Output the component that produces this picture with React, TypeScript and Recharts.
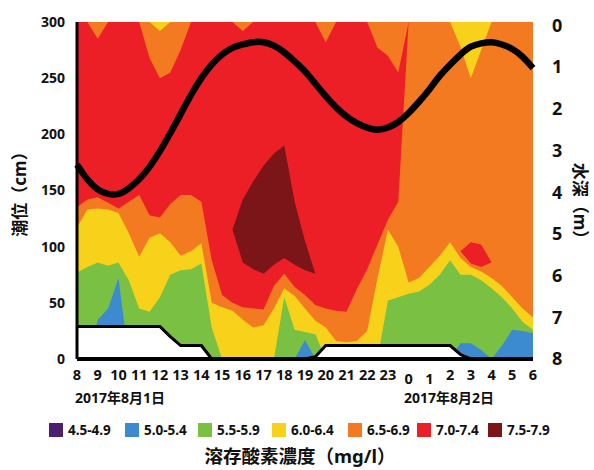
import { ComposedChart, Area, Line, XAxis, YAxis } from 'recharts';

// x axis: one sample every 30 minutes, starting 8:00 on Aug 1 and ending 6:00 on Aug 2
const hourLabels = ['8', '9', '10', '11', '12', '13', '14', '15', '16', '17', '18', '19', '20', '21', '22', '23', '0', '1', '2', '3', '4', '5', '6'];

// tide level (cm)
const tide = [173, 160, 151, 147, 147, 152, 160, 171, 185, 201, 218, 235, 250, 262, 271, 277, 280, 282, 282, 279, 273, 265, 256, 245, 234, 224, 216, 210, 206, 204, 206, 211, 219, 229, 240, 252, 262, 271, 278, 281, 282, 280, 276, 269, 259];

// bottom profile (cm)
const mud = [29, 29, 29, 29, 29, 29, 29, 29, 29, 20, 12, 12, 12, 0, 0, 0, 0, 0, 0, 0, 0, 0, 0, 2, 12, 12, 12, 12, 12, 12, 12, 12, 12, 12, 12, 12, 12, 4, 0, 0, 0, 0, 0, 0, 0];

// upper edge of each DO band, measured from the bottom (cm)
const blueTop = [0, 0, 35, 45, 72, 0, 0, 0, 0, 0, 0, 0, 0, 0, 0, 0, 0, 0, 0, 0, 0, 0, 17, 0, 0, 0, 0, 0, 0, 0, 0, 0, 0, 0, 0, 0, 0, 14, 14, 8, 0, 12, 26, 25, 23];
const greenTop = [77, 82, 86, 83, 86, 70, 45, 42, 55, 75, 79, 80, 85, 28, 0, 0, 0, 0, 0, 0, 55, 26, 24, 22, 0, 0, 0, 0, 0, 0, 52, 55, 58, 60, 66, 75, 88, 75, 75, 70, 63, 55, 45, 33, 26];
const yellowTop = [117, 133, 134, 133, 130, 112, 91, 108, 112, 104, 92, 96, 103, 50, 46, 43, 35, 28, 30, 45, 63, 56, 45, 34, 28, 16, 15, 16, 25, 72, 115, 100, 68, 72, 82, 92, 104, 90, 82, 78, 72, 65, 55, 45, 37];
const orangeTop = [135, 142, 144, 139, 134, 140, 146, 128, 126, 138, 146, 146, 140, 88, 57, 50, 46, 45, 44, 65, 76, 64, 57, 48, 45, 43, 42, 62, 80, 102, 124, 140, 300, 300, 300, 300, 300, 300, 300, 300, 300, 300, 300, 300, 300];

// lower edge of bands hanging from the top of the plot (cm)
const orangeCap = [300, 300, 285, 300, 300, 300, 300, 268, 250, 255, 275, 300, 300, 300, 300, 300, 292, 300, 300, 300, 300, 300, 300, 300, 282, 300, 300, 300, 300, 277, 270, 255, 300, 300, 300, 300, 300, 300, 300, 300, 300, 300, 300, 300, 300];
const yellowCap = [300, 300, 300, 300, 300, 300, 300, 300, 292, 300, 300, 300, 300, 300, 300, 300, 300, 300, 300, 300, 300, 300, 300, 300, 300, 300, 300, 300, 300, 300, 300, 300, 300, 300, 300, 300, 300, 278, 250, 275, 300, 300, 300, 300, 300];

// closed patches (cm)
const darkRedLo = [115, 115, 115, 115, 115, 115, 115, 115, 115, 115, 115, 115, 115, 115, 115, 115, 86, 80, 76, 84, 90, 84, 79, 76, 76, 76, 76, 76, 76, 76, 76, 76, 76, 76, 76, 76, 76, 76, 76, 76, 76, 76, 76, 76, 76];
const darkRedHi = [115, 115, 115, 115, 115, 115, 115, 115, 115, 115, 115, 115, 115, 115, 115, 115, 142, 158, 172, 183, 190, 140, 105, 76, 76, 76, 76, 76, 76, 76, 76, 76, 76, 76, 76, 76, 76, 76, 76, 76, 76, 76, 76, 76, 76];
const redSpotLo = [96, 96, 96, 96, 96, 96, 96, 96, 96, 96, 96, 96, 96, 96, 96, 96, 96, 96, 96, 96, 96, 96, 96, 96, 96, 96, 96, 96, 96, 96, 96, 96, 96, 96, 96, 96, 96, 96, 85, 82, 86, 86, 86, 86, 86];
const redSpotHi = [96, 96, 96, 96, 96, 96, 96, 96, 96, 96, 96, 96, 96, 96, 96, 96, 96, 96, 96, 96, 96, 96, 96, 96, 96, 96, 96, 96, 96, 96, 96, 96, 96, 96, 96, 96, 96, 96, 104, 102, 86, 86, 86, 86, 86];

const cmTicks = [0, 50, 100, 150, 200, 250, 300];
const depthTicks = [0, 1, 2, 3, 4, 5, 6, 7, 8];

const legendLabels = ['4.5-4.9', '5.0-5.4', '5.5-5.9', '6.0-6.4', '6.5-6.9', '7.0-7.4', '7.5-7.9'];
const legendColors = ['#4B1F6F', '#3C8BD0', '#7AC143', '#F8D21A', '#F37A21', '#EC1F26', '#7B1518'];
const [PURPLE, BLUE, GREEN, YELLOW, ORANGE, RED, DARKRED] = legendColors;

const FONT = "'Noto Sans', 'Noto Sans CJK JP', sans-serif";

const data = tide.map((v, i) => ({
  t: i / 2,
  tide: v,
  base: [0, 300],
  orange: [0, orangeTop[i]],
  orangeCap: [orangeCap[i], 300],
  yellow: [0, yellowTop[i]],
  yellowCap: [yellowCap[i], 300],
  green: [0, greenTop[i]],
  blue: [0, blueTop[i]],
  darkRed: [darkRedLo[i], darkRedHi[i]],
  redSpot: [redSpotLo[i], redSpotHi[i]],
  mud: [0, mud[i]],
}));

const bands: [string, string][] = [
  ['base', RED],
  ['orange', ORANGE],
  ['orangeCap', ORANGE],
  ['yellow', YELLOW],
  ['yellowCap', YELLOW],
  ['green', GREEN],
  ['blue', BLUE],
  ['darkRed', DARKRED],
  ['redSpot', RED],
];

// the "0" and "1" labels sit a little lower in the original
const HourTick = ({ x, y, payload }: any) => {
  const label = hourLabels[payload.value];
  const drop = label === '0' || label === '1' ? 4 : 0;
  return (
    <text x={x} y={y + drop} dy="0.71em" textAnchor="middle" fill="#111" fontSize={14.5} fontWeight={700} fontFamily={FONT}>
      {label}
    </text>
  );
};

const text = { position: 'absolute' as const, fontFamily: FONT, fontWeight: 700, color: '#111', whiteSpace: 'nowrap' as const };

export default function App() {
  return (
    <div style={{ position: 'absolute', left: 0, top: 0, width: 594, height: 470, background: '#fff', overflow: 'hidden' }}>
      <ComposedChart width={594} height={470} data={data} margin={{ top: 22, right: 0, bottom: 81, left: 0 }}>
        <XAxis
          dataKey="t"
          type="number"
          domain={[0, 22]}
          ticks={hourLabels.map((_, i) => i)}
          interval={0}
          height={30}
          tickLine={false}
          tickMargin={5}
          axisLine={{ stroke: '#000', strokeWidth: 4 }}
          tick={<HourTick />}
        />
        <YAxis
          yAxisId="cm"
          domain={[0, 300]}
          ticks={cmTicks}
          width={77}
          tickLine={false}
          tickMargin={6}
          axisLine={{ stroke: '#000', strokeWidth: 3 }}
          tick={{ fill: '#111', fontSize: 14, fontWeight: 700, fontFamily: FONT }}
        />
        <YAxis
          yAxisId="depth"
          orientation="right"
          domain={[-0.08, 8]}
          reversed
          ticks={depthTicks}
          width={61}
          allowDataOverflow
          tickLine={false}
          tickMargin={13}
          axisLine={false}
          tick={{ fill: '#111', fontSize: 18, fontWeight: 700, fontFamily: FONT, textAnchor: 'start' }}
        />
        {bands.map(([key, color]) => (
          <Area
            key={key}
            yAxisId="cm"
            dataKey={key}
            type="linear"
            fill={color}
            fillOpacity={1}
            stroke="none"
            isAnimationActive={false}
            activeDot={false}
          />
        ))}
        <Area
          yAxisId="cm"
          dataKey="mud"
          type="linear"
          fill="#fff"
          fillOpacity={1}
          stroke="#000"
          strokeWidth={3}
          isAnimationActive={false}
          activeDot={false}
        />
        <Line
          yAxisId="cm"
          dataKey="tide"
          type="natural"
          stroke="#000"
          strokeWidth={6.5}
          dot={false}
          activeDot={false}
          isAnimationActive={false}
        />
      </ComposedChart>

      <div style={{ ...text, left: 75, top: 387, fontSize: 14 }}>2017年8月1日</div>
      <div style={{ ...text, left: 404, top: 387, fontSize: 14 }}>2017年8月2日</div>

      <div style={{ ...text, left: 18, top: 190, fontSize: 17, transform: 'translate(-50%, -50%) rotate(-90deg)' }}>潮位（cm）</div>
      <div style={{ ...text, left: 581, top: 205, fontSize: 17, transform: 'translate(-50%, -50%) rotate(90deg)' }}>水深（m）</div>

      {legendLabels.map((label, i) => (
        <div key={label} style={{ ...text, left: [49, 125, 198, 272, 348, 417, 488][i], top: 421, fontSize: 13.5, display: 'flex', alignItems: 'center' }}>
          <span style={{ display: 'inline-block', width: 14, height: 14, background: legendColors[i], marginRight: 5 }} />
          {label}
        </div>
      ))}

      <div style={{ ...text, left: 300, top: 444, fontSize: 18.5, lineHeight: '24px', transform: 'translateX(-50%)' }}>溶存酸素濃度（mg/l）</div>
    </div>
  );
}
